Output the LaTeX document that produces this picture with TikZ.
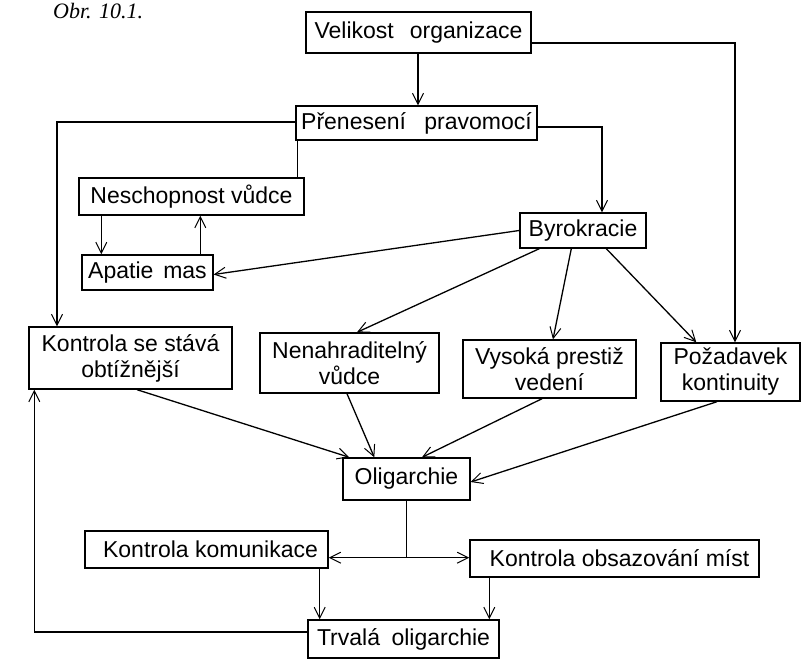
\documentclass[tikz,border=0pt]{standalone}
\usepackage{fontspec}
\setmainfont{Liberation Sans}
\newfontfamily\capfont{Liberation Serif}
\usetikzlibrary{arrows.meta}
\tikzset{
  box/.style={draw, line width=1.4pt, inner sep=0pt, align=center,
    font=\fontsize{23}{26}\selectfont},
  ln/.style={line width=1.3pt},
  arr/.style={ln, -{Straight Barb[length=11pt, width=11pt, line width=1pt]}},
}
\begin{document}
\begin{tikzpicture}[x=1pt, y=-1pt]
\useasboundingbox (0,0) rectangle (809,660);
\node[font=\capfont\itshape\fontsize{22}{26}\selectfont, anchor=base west, inner sep=0pt] (cap) at (53,19) {Obr. 10.1.};

\node[box, minimum width=225pt, minimum height=41pt] (vel) at (418.5,32.5) {Velikost\hspace{0.7em}organizace};
\node[box, minimum width=241pt, minimum height=34pt] (pre) at (416.5,123) {Přenesení\hspace{0.8em}pravomocí};
\node[box, minimum width=126pt, minimum height=35pt] (byr) at (583,230.5) {Byrokracie};
\node[box, minimum width=225pt, minimum height=37pt] (nes) at (191.5,196.5) {Neschopnost vůdce};
\node[box, minimum width=131pt, minimum height=35pt] (apa) at (147.5,272.5) {Apatie\hspace{0.15em} mas};
\node[box, minimum width=203pt, minimum height=62pt] (kse) at (130.5,358) {Kontrola se stává\\obtížnější};
\node[box, minimum width=179pt, minimum height=60pt] (nen) at (349.5,363) {Nenahraditelný\\vůdce};
\node[box, minimum width=173pt, minimum height=58pt] (vys) at (549.5,369) {Vysoká prestiž\\vedení};
\node[box, minimum width=139pt, minimum height=58pt] (poz) at (730.5,372) {Požadavek\\kontinuity};
\node[box, minimum width=127pt, minimum height=42pt] (oli) at (406.5,479) {Oligarchie};
\node[box, minimum width=243pt, minimum height=37pt] (kko) at (206.5,549.5) {\hspace{8pt}Kontrola komunikace};
\node[box, minimum width=289pt, minimum height=37pt] (kob) at (614.5,558.5) {\hspace{10pt}Kontrola obsazování míst};
\node[box, minimum width=191pt, minimum height=38pt] (trv) at (403.5,639) {Trvalá\hspace{0.5em}oligarchie};

% top part
\draw[arr] ([xshift=-0.5pt]vel.south) -- ([xshift=-0.5pt]vel.south |- pre.north);
\draw[arr] ([yshift=-10.5pt]vel.east) -| ([xshift=4.5pt]poz.north);
\draw[arr] ([yshift=-4pt]pre.east) -| ([xshift=19pt]byr.north);
\draw[arr] ([yshift=1pt]pre.west) -| ([xshift=-73.5pt]kse.north);
\draw[ln] ([xshift=2pt]pre.south west) -- ([xshift=2pt]pre.south west |- nes.north);
\draw[arr] ([xshift=23pt]nes.south west) -- ([xshift=23pt]nes.south west |- apa.north);
\draw[arr] ([xshift=119pt]apa.north west) -- ([xshift=119pt]apa.north west |- nes.south);
\draw[arr] (byr.west) -- ([yshift=-2pt]apa.east);

% from Byrokracie
\draw[arr] ([xshift=20pt]byr.south west) -- ([xshift=7.5pt]nen.north);
\draw[arr] ([xshift=52pt]byr.south west) -- ([xshift=3.5pt]vys.north);
\draw[arr] ([xshift=87pt]byr.south west) -- ([xshift=36pt]poz.north west);

% into Oligarchie
\draw[arr] ([xshift=6.5pt]kse.south) -- ([xshift=7pt]oli.north west);
\draw[arr] ([xshift=-2.5pt]nen.south) -- ([xshift=32pt]oli.north west);
\draw[arr] ([xshift=-7.5pt]vys.south) -- ([xshift=15.5pt]oli.north);
\draw[arr] ([xshift=-13.5pt]poz.south) -- ([yshift=-3pt]oli.east);

% bottom part
\coordinate (j) at ([yshift=-57pt]oli.south);
\draw[ln] (oli.south) -- (j);
\draw[arr] (j) -- (kko.east |- j);
\draw[arr] (j) -- (kob.west |- j);
\draw[arr] ([xshift=-9pt]kko.south east) -- ([xshift=-9pt]kko.south east |- trv.north);
\draw[arr] ([xshift=20pt]kob.south west) -- ([xshift=20pt]kob.south west |- trv.north);
\draw[arr] ([yshift=7pt]trv.west) -| ([xshift=6pt]kse.south west);
\end{tikzpicture}
\end{document}
